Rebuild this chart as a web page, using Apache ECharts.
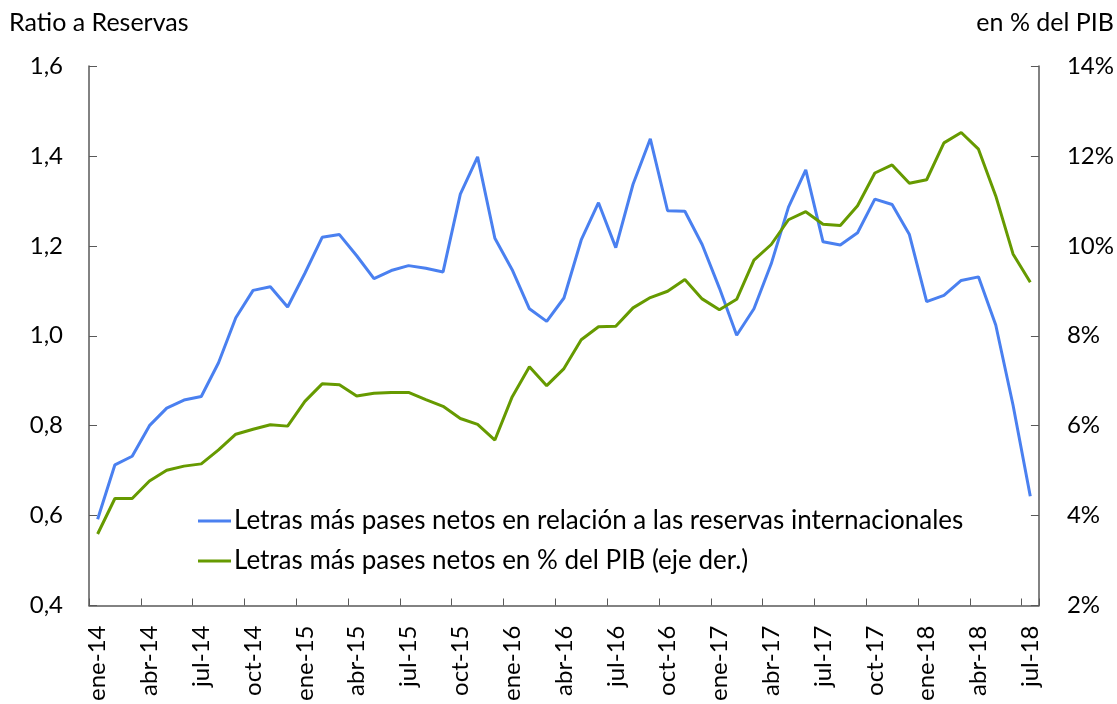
<!DOCTYPE html>
<html>
<head>
<meta charset="utf-8">
<script src="https://cdn.jsdelivr.net/npm/echarts@6/dist/echarts.min.js"></script>
<style>
  html, body { margin: 0; padding: 0; background: #fff; }
  #chart { width: 1117px; height: 704px; }
</style>
</head>
<body>
<div id="chart"></div>
<script>
// categorias mensuales ene-14 .. jul-18
const meses = ['ene', 'feb', 'mar', 'abr', 'may', 'jun', 'jul', 'ago', 'sep', 'oct', 'nov', 'dic']
const categorias = []
for (let a = 14; a <= 18; a++) {
  for (let m = 0; m < 12; m++) {
    if (a === 18 && m > 6) break
    categorias.push(meses[m] + '-' + a)
  }
}

// Letras mas pases netos / reservas internacionales (eje izq.)
const ratioReservas = [
  0.592, 0.713, 0.732, 0.800, 0.839, 0.857, 0.865, 0.940, 1.040, 1.101, 1.109, 1.064,
  1.139, 1.219, 1.225, 1.178, 1.127, 1.145, 1.156, 1.150, 1.142, 1.315, 1.398, 1.217,
  1.147, 1.060, 1.032, 1.084, 1.213, 1.296, 1.196, 1.337, 1.438, 1.278, 1.277, 1.203,
  1.106, 1.001, 1.060, 1.160, 1.286, 1.369, 1.209, 1.202, 1.229, 1.304, 1.292, 1.225,
  1.076, 1.090, 1.123, 1.131, 1.024, 0.846, 0.643
]

// Letras mas pases netos en % del PIB (eje der.)
const pctPIB = [
  3.59, 4.38, 4.38, 4.77, 5.01, 5.10, 5.15, 5.46, 5.81, 5.92, 6.02, 5.99,
  6.54, 6.93, 6.91, 6.66, 6.72, 6.74, 6.74, 6.58, 6.43, 6.16, 6.03, 5.68,
  6.64, 7.31, 6.89, 7.27, 7.91, 8.20, 8.21, 8.62, 8.85, 8.99, 9.25, 8.82,
  8.58, 8.81, 9.68, 10.03, 10.58, 10.76, 10.48, 10.45, 10.89, 11.62, 11.80, 11.39,
  11.47, 12.29, 12.52, 12.15, 11.11, 9.82, 9.19
]

const nombres = [
  'Letras más pases netos en relación a las reservas internacionales',
  'Letras más pases netos en % del PIB (eje der.)'
]

const fuente = 'Lato, "Noto Sans", sans-serif'
const ejeColor = '#595959'

const myChart = echarts.init(document.getElementById('chart'))

const option = {
  backgroundColor: '#fff',
  animation: false,
  textStyle: { fontFamily: fuente },
  grid: { left: 89, right: 78, top: 66, bottom: 97 },
  legend: {
    orient: 'vertical',
    left: 193,
    top: 503,
    icon: 'rect',
    itemWidth: 33,
    itemHeight: 3,
    itemGap: 14,
    textStyle: { fontSize: 26, color: '#000', fontFamily: fuente, padding: [0, 0, 0, -2] },
    data: nombres
  },
  graphic: [
    { type: 'text', left: 9, top: 10, style: { text: 'Ratio a Reservas', fontSize: 25, fill: '#000', fontFamily: fuente } },
    { type: 'text', right: 3, top: 10, style: { text: 'en % del PIB', fontSize: 25, fill: '#000', fontFamily: fuente } }
  ],
  xAxis: {
    type: 'category',
    boundaryGap: true,
    data: categorias,
    axisLine: { lineStyle: { color: ejeColor, width: 1.5 } },
    axisTick: { show: true, inside: true, length: 7, interval: 2, lineStyle: { color: ejeColor } },
    axisLabel: { interval: 2, rotate: 90, margin: 20, fontSize: 24, color: '#000', fontFamily: fuente },
    splitLine: { show: false }
  },
  yAxis: [
    {
      type: 'value',
      min: 0.4,
      max: 1.6,
      interval: 0.2,
      position: 'left',
      axisLine: { show: true, lineStyle: { color: ejeColor, width: 1.5 } },
      axisTick: { show: true, inside: true, length: 8, lineStyle: { color: ejeColor } },
      axisLabel: {
        margin: 26,
        fontSize: 24,
        color: '#000',
        fontFamily: fuente,
        formatter: v => v.toFixed(1).replace('.', ',')
      },
      splitLine: { show: false }
    },
    {
      type: 'value',
      min: 2,
      max: 14,
      interval: 2,
      position: 'right',
      axisLine: { show: true, lineStyle: { color: ejeColor, width: 1.5 } },
      axisTick: { show: true, inside: true, length: 8, lineStyle: { color: ejeColor } },
      axisLabel: {
        margin: 28,
        fontSize: 24,
        color: '#000',
        fontFamily: fuente,
        formatter: v => Math.round(v) + '%'
      },
      splitLine: { show: false }
    }
  ],
  series: [
    {
      name: nombres[0],
      type: 'line',
      yAxisIndex: 0,
      symbol: 'none',
      data: ratioReservas,
      itemStyle: { color: '#4a80f0' },
      lineStyle: { color: '#4a80f0', width: 3 }
    },
    {
      name: nombres[1],
      type: 'line',
      yAxisIndex: 1,
      symbol: 'none',
      data: pctPIB,
      itemStyle: { color: '#669a00' },
      lineStyle: { color: '#669a00', width: 3 }
    }
  ]
}

myChart.setOption(option)
</script>
</body>
</html>
